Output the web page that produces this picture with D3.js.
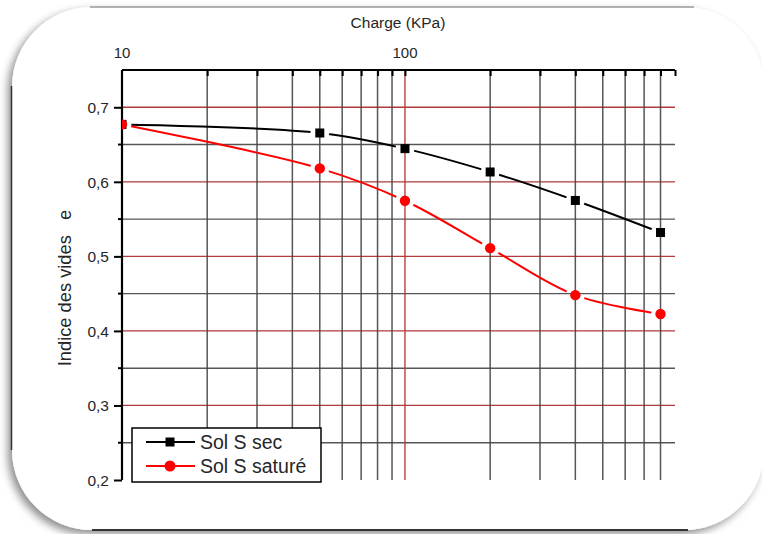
<!DOCTYPE html>
<html><head><meta charset="utf-8">
<script src="https://cdn.jsdelivr.net/npm/d3@7"></script>
<style>html,body{margin:0;padding:0;background:#fff;}svg{display:block;}text{font-family:"Liberation Sans",Arial,sans-serif;fill:#262626;}</style>
</head><body>
<svg id="c" width="762" height="534"></svg>
<script>
const charges = [10, 50, 100, 200, 400, 800];
const solSec = [0.677, 0.6655, 0.6445, 0.6132, 0.575, 0.532];
const solSature = [0.677, 0.618, 0.5746, 0.511, 0.448, 0.4227];
const seriesNames = ["Sol S sec", "Sol S saturé"];
const yMajorTicks = [0.2, 0.3, 0.4, 0.5, 0.6, 0.7];
const yMinorTicks = [0.25, 0.35, 0.45, 0.55, 0.65];
const xGridTicks = [20, 30, 40, 50, 60, 70, 80, 90, 100, 200, 300, 400, 500, 600, 700, 800];
const xLabelTicks = [10, 100];

const svg = d3.select("#c");
const W = 762, H = 534;
const L = 122, R = 675, T = 70, B = 480;
const x = d3.scaleLog().domain([10, 900]).range([L, R]);
const y = d3.scaleLinear().domain([0.2, 0.75]).range([B, T]);

const defs = svg.append("defs");
const f = defs.append("filter").attr("id", "sh").attr("x", "-10%").attr("y", "-10%").attr("width", "120%").attr("height", "120%");
f.append("feDropShadow").attr("dx", -4).attr("dy", 4).attr("stdDeviation", 4).attr("flood-color", "#000").attr("flood-opacity", 0.45);

// frame
svg.append("rect").attr("x", 12).attr("y", 7).attr("width", 752).attr("height", 523).attr("rx", 80).attr("ry", 80)
  .attr("fill", "#fff").attr("filter", "url(#sh)");
svg.append("line").attr("x1", 90).attr("x2", 694).attr("y1", 7).attr("y2", 7).attr("stroke", "#999").attr("stroke-width", 1.5);
svg.append("line").attr("x1", 11.5).attr("x2", 11.5).attr("y1", 86).attr("y2", 450).attr("stroke", "#333").attr("stroke-width", 1.5);
svg.append("line").attr("x1", 92).attr("x2", 688).attr("y1", 530).attr("y2", 530).attr("stroke", "#333").attr("stroke-width", 2);

const g = svg.append("g");
// horizontal grid
g.selectAll(".hmin").data(yMinorTicks).join("line")
  .attr("x1", L).attr("x2", R).attr("y1", d => y(d)).attr("y2", d => y(d))
  .attr("stroke", "#444").attr("stroke-width", 1.4).attr("opacity", 0.9);
g.selectAll(".hmaj").data(yMajorTicks.filter(d => d > 0.2)).join("line")
  .attr("x1", L).attr("x2", R).attr("y1", d => y(d)).attr("y2", d => y(d))
  .attr("stroke", "#b33a3a").attr("stroke-width", 1.3);
// vertical grid
g.selectAll(".vg").data(xGridTicks).join("line")
  .attr("x1", d => x(d)).attr("x2", d => x(d)).attr("y1", T).attr("y2", B)
  .attr("stroke", d => d === 100 ? "#b33a3a" : "#444").attr("stroke-width", 1.5).attr("opacity", 0.9);

// axes
const axTop = g.append("g").attr("transform", `translate(0,${T})`)
  .call(d3.axisTop(x).tickValues(xGridTicks.concat([900])).tickSize(-6).tickFormat(""));
axTop.select(".domain").attr("stroke", "#000").attr("stroke-width", 2.2).attr("d", `M${L},0H${R}`);
axTop.selectAll(".tick line").attr("stroke", "#000").attr("stroke-width", 2);
g.selectAll(".xl").data(xLabelTicks).join("text")
  .attr("x", d => x(d)).attr("y", 58).attr("text-anchor", "middle").attr("font-size", 15).text(d => d);

const axLeft = g.append("g").attr("transform", `translate(${L},0)`)
  .call(d3.axisLeft(y).tickValues(yMajorTicks).tickSize(8).tickPadding(5).tickFormat(d => d3.format(".1f")(d).replace(".", ",")));
axLeft.select(".domain").attr("stroke", "#000").attr("stroke-width", 2.2).attr("d", `M0,${T}V${B}`);
axLeft.selectAll(".tick line").attr("stroke", "#000").attr("stroke-width", 2);
axLeft.selectAll(".tick text").attr("font-size", 15.5).attr("fill", "#262626").attr("font-family", "Liberation Sans, Arial, sans-serif").attr("dy", "0.35em");
g.selectAll(".ymt").data(yMinorTicks).join("line")
  .attr("x1", L - 4).attr("x2", L).attr("y1", d => y(d)).attr("y2", d => y(d)).attr("stroke", "#000").attr("stroke-width", 2);

// titles
svg.append("text").attr("x", 398).attr("y", 28).attr("text-anchor", "middle").attr("font-size", 15.5).text("Charge (KPa)");
svg.append("text").attr("transform", "translate(71,288) rotate(-90)").attr("text-anchor", "middle")
  .attr("font-size", 18.3).style("white-space", "pre").text("Indice des vides   e");

// clip
defs.append("clipPath").attr("id", "plot").append("rect").attr("x", L).attr("y", T).attr("width", R - L).attr("height", B - T);

const series = [
  {name: seriesNames[0], vals: solSec, color: "#000", shape: "square"},
  {name: seriesNames[1], vals: solSature, color: "#ff0000", shape: "circle"}
];
const line = d3.line().x(d => x(d[0])).y(d => y(d[1])).curve(d3.curveCatmullRom.alpha(0.5));
series.forEach((s, i) => {
  const pts = charges.map((c, j) => [c, s.vals[j]]);
  const m = defs.append("mask").attr("id", "m" + i).attr("maskUnits", "userSpaceOnUse")
    .attr("x", 0).attr("y", 0).attr("width", W).attr("height", H);
  m.append("rect").attr("width", W).attr("height", H).attr("fill", "#fff");
  m.selectAll("circle").data(pts).join("circle").attr("cx", d => x(d[0])).attr("cy", d => y(d[1])).attr("r", 9.5).attr("fill", "#000");
  const sg = svg.append("g").attr("clip-path", "url(#plot)");
  sg.append("path").attr("d", line(pts)).attr("fill", "none").attr("stroke", s.color).attr("stroke-width", 2).attr("mask", `url(#m${i})`);
  if (s.shape === "square") {
    sg.selectAll("rect").data(pts).join("rect").attr("x", d => x(d[0]) - 4.5).attr("y", d => y(d[1]) - 4.5)
      .attr("width", 9).attr("height", 9).attr("fill", s.color);
  } else {
    sg.selectAll("circle").data(pts).join("circle").attr("cx", d => x(d[0])).attr("cy", d => y(d[1])).attr("r", 5.2).attr("fill", s.color);
  }
});

// legend
const lg = svg.append("g");
lg.append("rect").attr("x", 132).attr("y", 428).attr("width", 189).attr("height", 54).attr("fill", "#fff").attr("stroke", "#000").attr("stroke-width", 1.5);
series.forEach((s, i) => {
  const yy = 442 + i * 24;
  lg.append("line").attr("x1", 146).attr("x2", 195).attr("y1", yy).attr("y2", yy).attr("stroke", s.color).attr("stroke-width", 2);
  if (s.shape === "square") lg.append("rect").attr("x", 165.5).attr("y", yy - 4.5).attr("width", 9).attr("height", 9).attr("fill", s.color);
  else lg.append("circle").attr("cx", 170).attr("cy", yy).attr("r", 5.5).attr("fill", s.color);
  lg.append("text").attr("x", 200).attr("y", yy + 7).attr("font-size", 19.5).text(s.name);
});
</script>
</body></html>
